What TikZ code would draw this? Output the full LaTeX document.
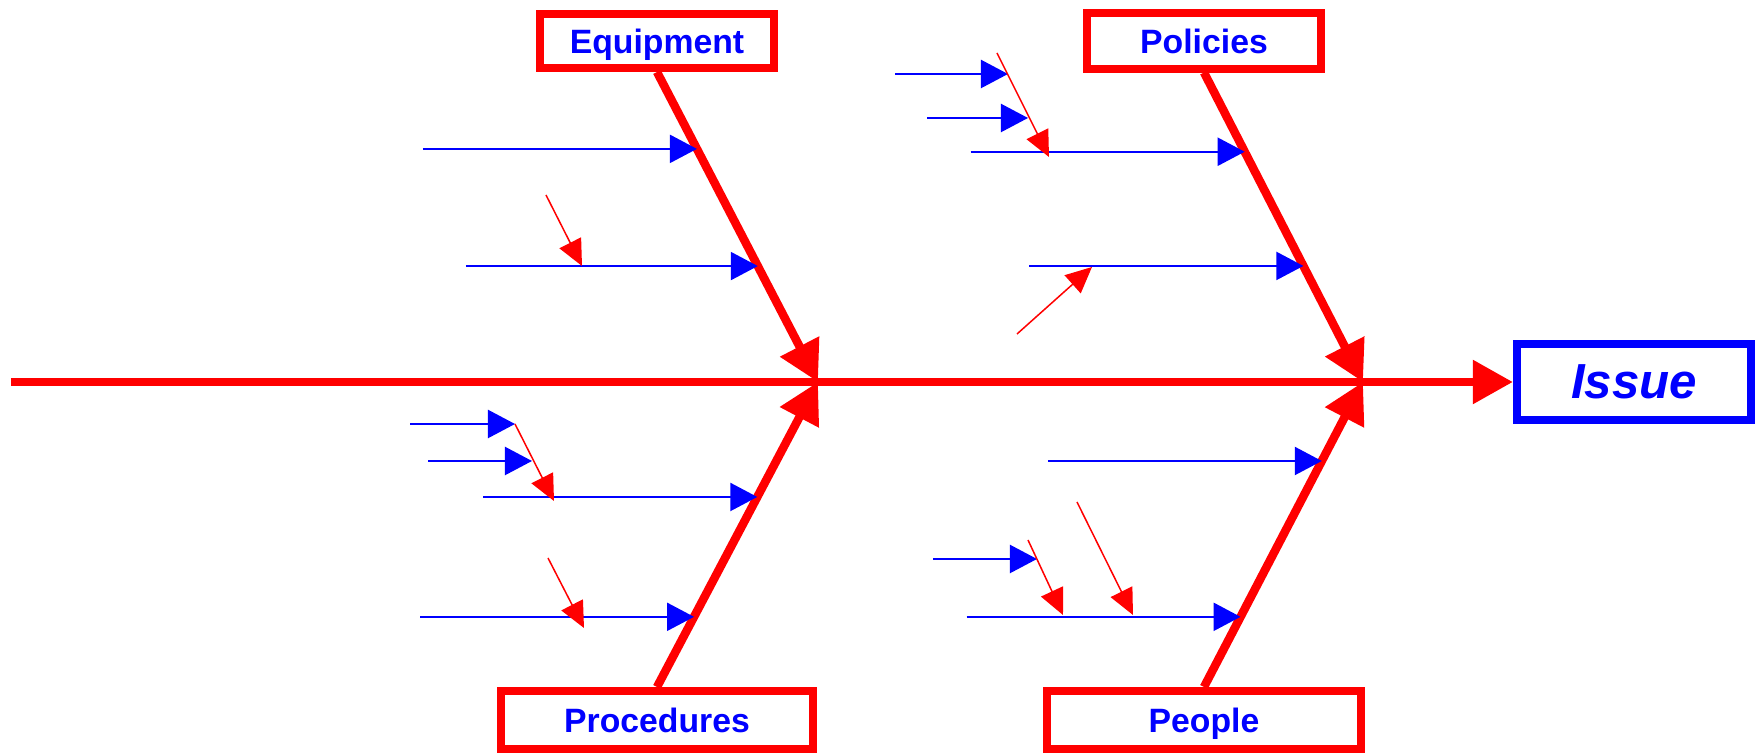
\documentclass[tikz,border=0pt]{standalone}
\usepackage{fontspec}
\setmainfont{Liberation Sans}
\usetikzlibrary{arrows.meta,calc}

\begin{document}
\begin{tikzpicture}[x=0.01cm,y=-0.01cm,
  catbox/.style={draw=red,line width=0.08cm,inner sep=0pt,text=blue,text depth=0pt,
    font=\fontsize{9.6}{11}\selectfont\bfseries},
  bone/.style={red,line width=0.085cm,-{Triangle[length=0.4cm,width=0.42cm]}},
  cause/.style={blue,line width=0.022cm,-{Triangle[length=0.27cm,width=0.28cm]}},
  subcause/.style={red,line width=0.015cm,-{Triangle[length=0.26cm,width=0.24cm]}}]
\useasboundingbox (0,0) rectangle (1762,755);

\node[catbox,minimum width=2.33cm,minimum height=0.54cm] (equipment) at (657,41) {Equipment};
\node[catbox,minimum width=2.34cm,minimum height=0.55cm] (policies) at (1204,41) {Policies};
\node[catbox,minimum width=3.12cm,minimum height=0.58cm] (procedures) at (657,720) {Procedures};
\node[catbox,minimum width=3.14cm,minimum height=0.58cm] (people) at (1204,720) {People};
\node[draw=blue,line width=0.08cm,minimum width=2.34cm,minimum height=0.75cm,text=blue,
  font=\fontsize{14}{16}\selectfont\bfseries\itshape] (issue) at (1634,382) {Issue};

\coordinate (tail) at (11,382);
\coordinate (j1) at (818,382);
\coordinate (j2) at (1363,382);

% spine and bones
\draw[bone] (tail) -- (issue.west);
\draw[bone] (equipment.south) -- (j1);
\draw[bone] (procedures.north) -- (j1);
\draw[bone] (policies.south) -- (j2);
\draw[bone] (people.north) -- (j2);

% causes on the bones
\coordinate (eq1) at ($(equipment.south)!0.248!(j1)$);
\coordinate (eq2) at ($(equipment.south)!0.626!(j1)$);
\coordinate (po1) at ($(policies.south)!0.256!(j2)$);
\coordinate (po2) at ($(policies.south)!0.625!(j2)$);
\coordinate (pr1) at ($(procedures.north)!0.623!(j1)$);
\coordinate (pr2) at ($(procedures.north)!0.23!(j1)$);
\coordinate (pe1) at ($(people.north)!0.741!(j2)$);
\coordinate (pe2) at ($(people.north)!0.23!(j2)$);

\coordinate (eq1s) at ($(eq1)+(-274,0)$);
\coordinate (eq2s) at ($(eq2)+(-292,0)$);
\coordinate (po1s) at ($(po1)+(-274,0)$);
\coordinate (po2s) at ($(po2)+(-274,0)$);
\coordinate (pr1s) at ($(pr1)+(-274,0)$);
\coordinate (pr2s) at ($(pr2)+(-274,0)$);
\coordinate (pe1s) at ($(pe1)+(-274,0)$);
\coordinate (pe2s) at ($(pe2)+(-274,0)$);

\draw[cause] (eq1s) -- (eq1);
\draw[cause] (eq2s) -- (eq2);
\draw[cause] (po1s) -- (po1);
\draw[cause] (po2s) -- (po2);
\draw[cause] (pr1s) -- (pr1);
\draw[cause] (pr2s) -- (pr2);
\draw[cause] (pe1s) -- (pe1);
\draw[cause] (pe2s) -- (pe2);

% small causes
\coordinate (po3s) at (895,74);  \coordinate (po3) at (1008,74);
\coordinate (po4s) at (927,118); \coordinate (po4) at (1028,118);
\coordinate (pr3s) at (410,424); \coordinate (pr3) at (515,424);
\coordinate (pr4s) at (428,461); \coordinate (pr4) at (532,461);
\coordinate (pe3s) at (933,559); \coordinate (pe3) at (1037,559);

\draw[cause] (po3s) -- (po3);
\draw[cause] (po4s) -- (po4);
\draw[cause] (pr3s) -- (pr3);
\draw[cause] (pr4s) -- (pr4);
\draw[cause] (pe3s) -- (pe3);

% red sub causes
\coordinate (eqas) at (546,195);  \coordinate (eqa) at (582,266);
\coordinate (poas) at (997,53);   \coordinate (poa) at (1049,157);
\coordinate (pobs) at (1017,334); \coordinate (pob) at (1092,267);
\coordinate (pras) at (515,424);  \coordinate (pra) at (554,501);
\coordinate (prbs) at (548,558);  \coordinate (prb) at (584,628);
\coordinate (peas) at (1028,540); \coordinate (pea) at (1063,615);
\coordinate (pebs) at (1077,502); \coordinate (peb) at (1133,615);

\draw[subcause] (eqas) -- (eqa);
\draw[subcause] (poas) -- (poa);
\draw[subcause] (pobs) -- (pob);
\draw[subcause] (pras) -- (pra);
\draw[subcause] (prbs) -- (prb);
\draw[subcause] (peas) -- (pea);
\draw[subcause] (pebs) -- (peb);
\end{tikzpicture}
\end{document}
